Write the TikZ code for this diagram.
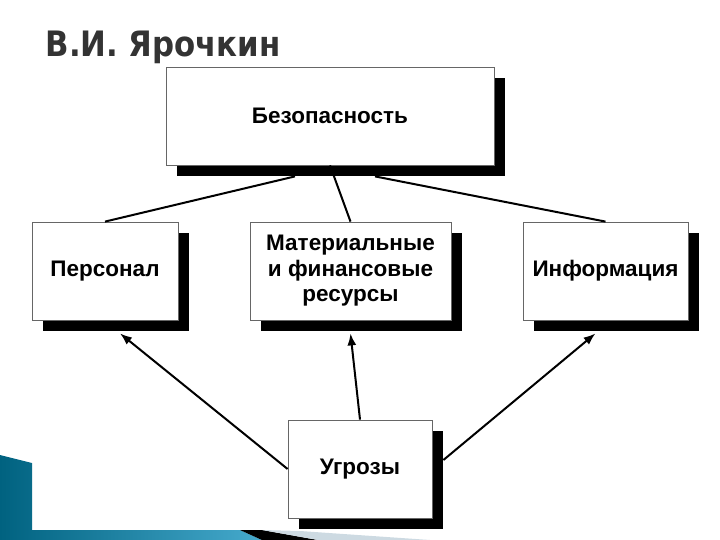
\documentclass[tikz,border=0pt]{standalone}
\usepackage{fontspec}
\setmainfont{Liberation Sans}
\newfontfamily\titlefont{DejaVu Sans}[FakeStretch=0.88]
\usepackage{tikz}
\usetikzlibrary{arrows.meta, shadows, calc}

\definecolor{teal1}{RGB}{0,98,128}
\definecolor{teal2}{RGB}{70,170,205}
\definecolor{greyblue}{RGB}{205,218,226}

\tikzset{
  box/.style={draw=black!60, line width=0.8pt, fill=white, inner sep=0pt,
    align=center, font=\bfseries\fontsize{22.5}{25.5}\selectfont,
    minimum height=98pt,
    general shadow={fill=black, shadow xshift=11pt, shadow yshift=-11pt}},
  link/.style={line width=2pt},
  arr/.style={line width=2pt, -{Latex[length=12pt,width=9pt]}}
}

\begin{document}
\begin{tikzpicture}[x=1pt, y=-1pt]
\useasboundingbox (0,0) rectangle (720,540);

% decoration
\shade[left color=teal1, right color=teal2, shading angle=90]
  (0,455) -- (32,463) -- (32,530) -- (240,530) -- (262,540) -- (0,540) -- cycle;
\fill[black] (240,530) -- (262,530) -- (318,540) -- (262,540) -- cycle;
\fill[greyblue] (262,530) -- (300,531) -- (430,540) -- (318,540) -- cycle;

% title
\node[anchor=base west, text=black!80, font=\titlefont\bfseries\fontsize{35}{35}\selectfont]
  (title) at (42,57) {В.И. Ярочкин};

\node[box, minimum width=328pt] (sec) at (330,116) {Безопасность};
\node[box, minimum width=146pt] (pers) at (105,271) {Персонал};
\node[box, minimum width=201pt] (res) at (350.5,271) {Материальные\\и финансовые\\ресурсы};
\node[box, minimum width=165pt] (info) at (605.5,271) {Информация};
\node[box, minimum width=144pt] (thr) at (360,469) {Угрозы};

\draw[link] ($(sec.south)+(-35,11)$) -- (pers.north);
\draw[link] (sec.south) -- (res.north);
\draw[link] ($(sec.south)+(45,11)$) -- (info.north);

\draw[arr] (thr.west) -- ($(pers.south)+(15,13)$);
\draw[arr] (thr.north) -- ($(res.south)+(0,13)$);
\draw[arr] ($(thr.east)+(11,-9)$) -- ($(info.south)+(-10,13)$);
\end{tikzpicture}
\end{document}
